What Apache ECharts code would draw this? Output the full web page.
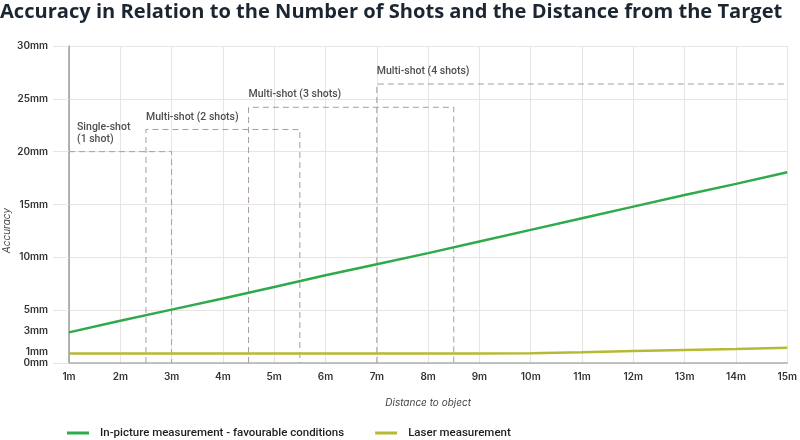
<!DOCTYPE html>
<html>
<head>
<meta charset="utf-8">
<script src="https://cdn.jsdelivr.net/npm/echarts@6/dist/echarts.min.js"></script>
<style>
html,body{margin:0;padding:0;background:#fff;}
#c{width:800px;height:440px;}
</style>
</head>
<body>
<div id="c"></div>
<script>
// ---- data ----
const titleText = 'Accuracy in Relation to the Number of Shots and the Distance from the Target';
const distances = [1,2,3,4,5,6,7,8,9,10,11,12,13,14,15];
const inPicture = [2.9,4.0,5.05,6.1,7.2,8.3,9.35,10.4,11.5,12.6,13.7,14.8,15.9,16.95,18.05];
const laser = [0.9,0.9,0.9,0.9,0.9,0.9,0.9,0.9,0.9,0.92,1.01,1.13,1.23,1.33,1.45];
const yLabelValues = [0,1,3,5,10,15,20,25,30];
const yTickValues = [0,5,10,15,20,25,30];
const shot1 = [[1,20],[3,20],[3,0]];
const shot2 = [[2.5,0],[2.5,22.1],[5.5,22.1],[5.5,0]];
const shot3 = [[4.5,0],[4.5,24.2],[8.5,24.2],[8.5,0]];
const shot4 = [[7,0],[7,26.4],[15,26.4]];
const shotLabels = [
  [1,20,'Single-shot\n(1 shot)'],
  [2.5,22.1,'Multi-shot (2 shots)'],
  [4.5,24.2,'Multi-shot (3 shots)'],
  [7,26.4,'Multi-shot (4 shots)']
];
const seriesNames = ['In-picture measurement - favourable conditions','Laser measurement'];

const FONT = 'Roboto, "Noto Sans", sans-serif';
const AXFONT = 'Inter, "Noto Sans", sans-serif';
const dashStyle = {color:'#a89c9c', width:1, type:[6,4]};
function dashSeries(d){
  return {type:'line', data:d, symbol:'none', silent:true, lineStyle:dashStyle, z:1, animation:false};
}

const chart = echarts.init(document.getElementById('c'), null, {renderer:'canvas'});
chart.setOption({
  animation:false,
  backgroundColor:'#fff',
  title:{text:titleText, left:0, top:2, padding:0,
    textStyle:{fontFamily:'"Open Sans", sans-serif', fontWeight:700, fontSize:20.1, color:'#1c2633'}},
  grid:{left:69, right:9, top:46, bottom:77},
  xAxis:{type:'value', min:1, max:15, interval:1,
    name:'Distance to object', nameLocation:'middle', nameGap:35,
    nameTextStyle:{fontFamily:AXFONT, fontStyle:'italic', fontSize:10, color:'#444'},
    axisLine:{show:true, lineStyle:{color:'#b0b0b0', width:1.5}},
    axisTick:{show:false},
    axisLabel:{formatter:'{value}m', margin:9, fontFamily:AXFONT, fontWeight:600, fontSize:10, color:'#333'},
    splitLine:{show:true, lineStyle:{color:'#e8e4e4', width:1}}
  },
  yAxis:{type:'value', min:0, max:30,
    axisLine:{show:true, lineStyle:{color:'#9a9a9a', width:1.5}},
    axisTick:{show:true, length:16, customValues:yTickValues, lineStyle:{color:'#e8e4e4'}},
    axisLabel:{customValues:yLabelValues, formatter:'{value}mm', margin:21, hideOverlap:false,
      fontFamily:AXFONT, fontWeight:600, fontSize:10, lineHeight:10, color:'#333'},
    splitLine:{show:true, lineStyle:{color:'#e8e4e4', width:1}}
  },
  legend:{left:67, top:427, padding:0, itemGap:31, icon:'rect', itemWidth:22, itemHeight:3,
    textStyle:{fontFamily:FONT, fontWeight:500, fontSize:11.5, color:'#1e1e1e', padding:[0,0,0,6]},
    data:seriesNames},
  graphic:[{type:'text', left:2, top:208, rotation:Math.PI/2,
    style:{text:'Accuracy', fontFamily:AXFONT, fontStyle:'italic', fontSize:10, fill:'#444'}}],
  series:[
    dashSeries(shot1), dashSeries(shot2), dashSeries(shot3), dashSeries(shot4),
    {type:'scatter', symbol:'circle', symbolSize:1, silent:true, z:5,
      itemStyle:{color:'rgba(0,0,0,0)'},
      data:shotLabels.map((d,i)=>({value:[d[0],d[1]], name:d[2],
        label:{show:true, position:'top', align:'left', verticalAlign:'bottom', distance:6,
          offset:[i===0?8:0,0], formatter:'{b}', lineHeight:12,
          fontFamily:FONT, fontWeight:500, fontSize:10.5, color:'#222'}}))},
    {name:seriesNames[0], type:'line', data:distances.map((x,i)=>[x,inPicture[i]]), symbol:'none',
      lineStyle:{color:'#2eaa4a', width:2.5}, itemStyle:{color:'#2eaa4a'}, z:3},
    {name:seriesNames[1], type:'line', data:distances.map((x,i)=>[x,laser[i]]), symbol:'none',
      lineStyle:{color:'#b7b934', width:2.5}, itemStyle:{color:'#b7b934'}, z:3}
  ]
});
</script>
</body>
</html>
